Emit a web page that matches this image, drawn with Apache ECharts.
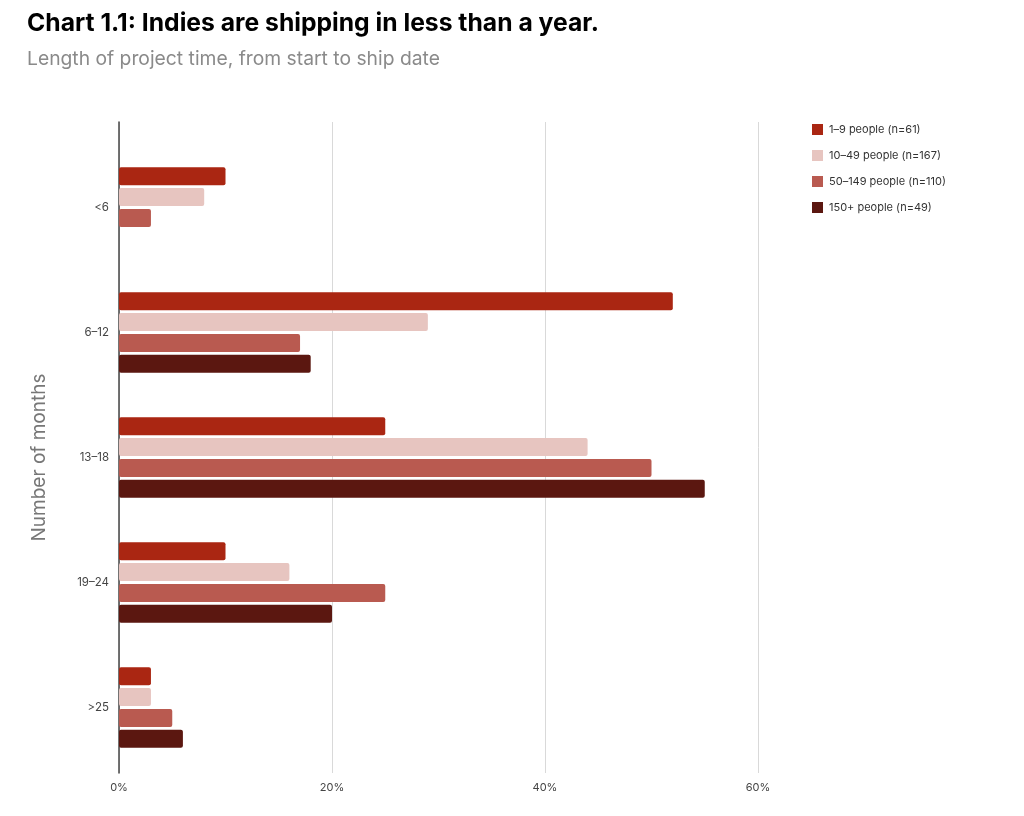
<!DOCTYPE html>
<html>
<head>
<meta charset="utf-8">
<script src="https://cdn.jsdelivr.net/npm/echarts@6/dist/echarts.min.js"></script>
<style>
  html, body { margin: 0; padding: 0; background: #fff; }
  #chart { width: 1024px; height: 816px; }
</style>
</head>
<body>
<div id="chart"></div>
<script>
const categories = ["<6", "6–12", "13–18", "19–24", ">25"];
const seriesNames = ["1–9 people (n=61)", "10–49 people (n=167)", "50–149 people (n=110)", "150+ people (n=49)"];
const small = [10, 52, 25, 10, 3];
const midSmall = [8, 29, 44, 16, 3];
const midLarge = [3, 17, 50, 25, 5];
const large = [0, 18, 55, 20, 6];
const xTicks = [0, 20, 40, 60];

const colors = ["#aa2612", "#e7c5c0", "#b95a50", "#5b1710"];
const values = [small, midSmall, midLarge, large];

const myChart = echarts.init(document.getElementById("chart"));

let seriesData = values.map((vals, i) => ({
  name: seriesNames[i],
  type: "bar",
  xAxisIndex: 0,
  yAxisIndex: 0,
  data: vals,
  barWidth: 18,
  barGap: "16%",
  itemStyle: { color: colors[i], borderRadius: 2 },
}));

const option = {
  animation: false,
  textStyle: { fontFamily: "Inter, 'Noto Sans', sans-serif" },
  title: [
    {
      text: "Chart 1.1: Indies are shipping in less than a year.",
      left: 22,
      top: 6,
      textStyle: { fontSize: 24.7, fontWeight: "bold", color: "#000" },
    },
    {
      text: "Length of project time, from start to ship date",
      left: 22,
      top: 45,
      textStyle: { fontSize: 19.3, fontWeight: "normal", color: "#8a8a8a" },
    },
  ],
  legend: {
    orient: "vertical",
    left: 807,
    top: 119,
    itemWidth: 11,
    itemHeight: 11,
    itemGap: 15,
    icon: "rect",
    data: seriesNames,
    textStyle: { fontSize: 11, color: "#333", padding: [0, 0, 0, 1] },
  },
  grid: [
    { left: 119, right: 266, top: 145, bottom: 46 },
    { left: 119, right: 266, top: 122, bottom: 43 },
  ],
  xAxis: [
    {
      gridIndex: 0,
      type: "value",
      min: 0,
      max: 60,
      interval: 20,
      show: false,
    },
    {
      gridIndex: 1,
      type: "value",
      min: 0,
      max: 60,
      interval: 20,
      axisLine: { show: false },
      axisTick: { show: false },
      axisLabel: {
        fontSize: 11,
        color: "#444",
        margin: 9,
        formatter: (v) => (xTicks.includes(v) ? v + "%" : ""),
      },
      splitLine: { show: true, lineStyle: { color: "#d9d9d9", width: 1 } },
    },
  ],
  yAxis: [
    {
      gridIndex: 0,
      type: "category",
      data: categories,
      inverse: true,
      axisLine: { show: false },
      axisTick: { show: false },
      axisLabel: { fontSize: 11.5, color: "#444", margin: 10 },
      name: "Number of months",
      nameLocation: "middle",
      nameGap: 70,
      nameTextStyle: { fontSize: 19, color: "#777" },
    },
    {
      gridIndex: 1,
      type: "value",
      axisLine: { show: true, onZero: false, lineStyle: { color: "#444", width: 1.5 } },
      axisTick: { show: false },
      axisLabel: { show: false },
      splitLine: { show: false },
    },
  ],
  series: seriesData,
};
myChart.setOption(option);
</script>
</body>
</html>
